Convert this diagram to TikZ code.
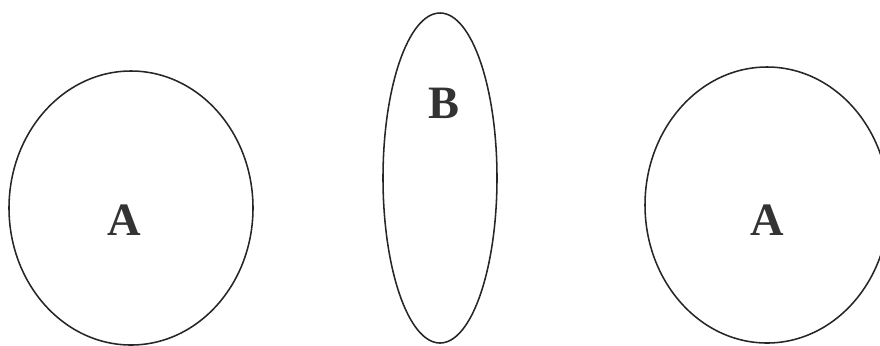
\documentclass[tikz,border=0pt]{standalone}
\usepackage{fontspec}
\setmainfont{Liberation Serif}
\usetikzlibrary{shapes.geometric}
\tikzset{
	x=0.025cm, y=-0.025cm,
	region/.style={draw=black!85, ellipse, line width=1.1pt, inner sep=0pt},
	tag/.style={font=\fontsize{33}{36}\selectfont\bfseries, text=black!80},
}
\begin{document}
\begin{tikzpicture}
		\useasboundingbox (0,0) rectangle (880,345);
		\node[region, minimum width=244*0.025cm, minimum height=274*0.025cm] (A1) at (131,208) {};
		\node[region, minimum width=114*0.025cm, minimum height=330*0.025cm] (B) at (440,178) {};
		\node[region, minimum width=244*0.025cm, minimum height=276*0.025cm] (A2) at (767,205) {};
		%
		\node[tag] (labA1) at (124,220) {A};
		\node[tag] (labB) at (444,103) {B};
		\node[tag] (labA2) at (767,220) {A};
	\end{tikzpicture}
\end{document}
